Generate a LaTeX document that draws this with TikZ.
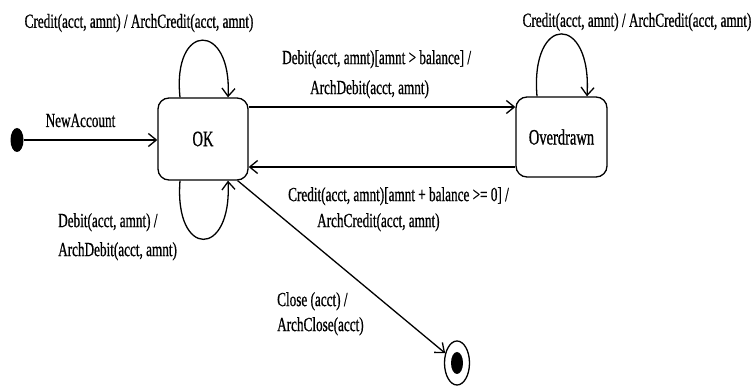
\documentclass[tikz,border=0pt]{standalone}
\usepackage{fontspec}
\setmainfont[FakeStretch=0.66,FakeBold=0.7]{Liberation Serif}
\usetikzlibrary{arrows.meta,shapes.geometric}

\tikzset{
  state/.style={draw, line width=1.3pt, rounded corners=11pt, inner sep=0pt,
                font=\fontsize{22}{25}\selectfont},
  trans/.style={line width=1.3pt, -{Straight Barb[length=8pt,width=13pt,line width=1.3pt]}},
  lbl/.style={inner sep=0pt, font=\fontsize{20}{25}\selectfont},
  mlbl/.style={lbl, align=left, anchor=north west},
}

\begin{document}
\begin{tikzpicture}[x=1pt,y=-1pt]
  \useasboundingbox (0,0) rectangle (756,387);

  % states
  \node[state, minimum width=90pt, minimum height=82pt] (ok) at (203,139) {OK};
  \node[state, minimum width=91pt, minimum height=80pt] (od) at (561.5,137) {Overdrawn};

  % pseudo-states
  \node[ellipse, fill, inner sep=0pt, minimum width=13pt, minimum height=24pt] (init) at (17,140) {};
  \node[ellipse, draw, line width=1.3pt, inner sep=0pt, minimum width=25pt, minimum height=44pt] (final) at (457,363) {};
  \fill (final.center) ellipse [x radius=6pt, y radius=11pt];

  % transitions
  \draw[trans] (init.east) -- (init.east -| ok.west);
  \draw[trans] ([xshift=-23pt]ok.north) .. controls +(-8,-76) and +(4,-76) .. ([xshift=25pt]ok.north);
  \draw[trans] ([xshift=-23pt]ok.south) .. controls +(-6,78) and +(4,78) .. ([xshift=25pt]ok.south);
  \draw[trans] ([xshift=-24.5pt]od.north) .. controls +(-7,-83) and +(5,-83) .. ([xshift=25.5pt]od.north);
  \draw[trans] ([yshift=32pt]ok.east) -- ([yshift=32pt]ok.east -| od.west);
  \draw[trans] ([yshift=-28pt]ok.east -| od.west) -- ([yshift=-28pt]ok.east);
  \draw[trans] ([xshift=-11pt]ok.south east) -- (final);

  % labels
  \node[lbl, anchor=base] (lnew) at (80.5,127) {NewAccount};
  \node[lbl] (lcredok) at (139,23) {Credit(acct, amnt) / ArchCredit(acct, amnt)};
  \node[lbl] (lcredod) at (637,22) {Credit(acct, amnt) / ArchCredit(acct, amnt)};
  \node[mlbl] (ldebod) at (282,50) {Debit(acct, amnt)[amnt > balance] /\\[5pt]\hspace*{28pt}ArchDebit(acct, amnt)};
  \node[mlbl] (lcredback) at (288,187) {Credit(acct, amnt)[amnt + balance >= 0] /\\[1pt]\hspace*{29pt}ArchCredit(acct, amnt)};
  \node[mlbl] (ldebok) at (58,213) {Debit(acct, amnt) /\\[4pt]ArchDebit(acct, amnt)};
  \node[mlbl] (lclose) at (277,292) {Close (acct) /\\ArchClose(acct)};
\end{tikzpicture}
\end{document}
